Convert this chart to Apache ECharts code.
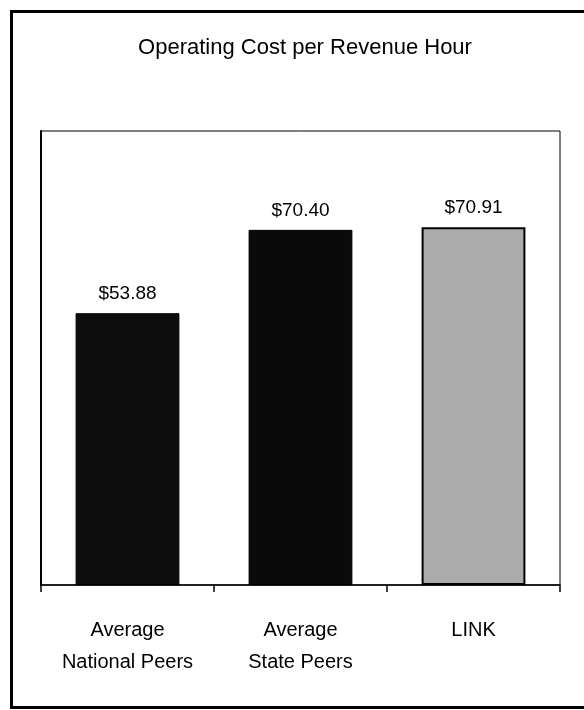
<!DOCTYPE html>
<html><head><meta charset="utf-8">
<script src="https://cdn.jsdelivr.net/npm/echarts@6/dist/echarts.min.js"></script>
<style>html,body{margin:0;padding:0;background:#fff}#c{width:584px;height:710px}</style>
</head><body><div id="c"></div>
<script>
const titleText = 'Operating Cost per Revenue Hour';
const categories = ['Average\nNational Peers', 'Average\nState Peers', 'LINK'];
const values = [53.88, 70.40, 70.91];
const labels = ['$53.88', '$70.40', '$70.91'];

const barColors = ['#0d0d0d', '#0a0a0a', '#ababab'];
const chart = echarts.init(document.getElementById('c'), null, {renderer: 'canvas'});
const font = '"Liberation Sans", Arial, sans-serif';
chart.setOption({
  animation: false,
  backgroundColor: '#fff',
  title: {
    text: titleText, left: 300, top: 32, textAlign: 'center',
    textStyle: {fontFamily: font, fontSize: 22, fontWeight: 'normal', color: '#000'}
  },
  graphic: [{
    type: 'rect', left: 9, top: 9,
    shape: {width: 600, height: 696},
    style: {fill: 'none', stroke: '#000', lineWidth: 3}
  }],
  grid: {left: 41, right: 24, top: 131, bottom: 125, show: true, borderColor: '#000', borderWidth: 1, backgroundColor: 'transparent'},
  xAxis: {
    type: 'category', data: categories,
    axisLine: {lineStyle: {color: '#000', width: 1.5}},
    axisTick: {show: true, length: 7, lineStyle: {color: '#000', width: 1.5}},
    axisLabel: {fontFamily: font, fontSize: 20, color: '#000', margin: 29, lineHeight: 32, interval: 0}
  },
  yAxis: {
    type: 'value', min: 0, max: 90,
    axisLine: {show: true, lineStyle: {color: '#000', width: 2}},
    axisTick: {show: false}, axisLabel: {show: false}, splitLine: {show: false}
  },
  series: [{
    type: 'bar', barWidth: '60%',
    data: values.map((v, i) => ({
      value: v,
      itemStyle: {color: barColors[i], borderColor: '#000', borderWidth: i === 2 ? 2 : 1},
      label: {formatter: labels[i]}
    })),
    label: {show: true, position: 'top', distance: 10, fontFamily: font, fontSize: 19, color: '#000'}
  }]
});
</script></body></html>
